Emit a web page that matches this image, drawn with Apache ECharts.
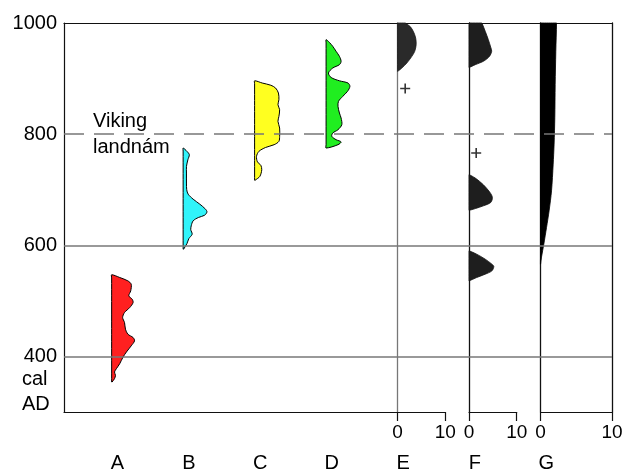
<!DOCTYPE html>
<html>
<head>
<meta charset="utf-8">
<script src="https://cdn.jsdelivr.net/npm/echarts@6/dist/echarts.min.js"></script>
<style>
  html, body { margin: 0; padding: 0; background: #fff; }
  #chart { width: 628px; height: 474px; }
</style>
</head>
<body>
<div id="chart"></div>
<script>
// categories and axis ticks
const categories = ['A', 'B', 'C', 'D', 'E', 'F', 'G']
const yTicks = [400, 600, 800, 1000]
const smallTicks = [0, 10]
const refLines = [400, 600, 800]

// probability curves, year (cal AD) -> density
const yearsA = [547, 542, 536, 530, 518, 509, 503, 497, 488, 479, 470, 461, 449, 440, 434, 428, 419, 408, 399, 387, 378, 372, 366, 360, 354]
const densA = [0, 1.7, 3.4, 4.1, 4.0, 3.6, 4.3, 4.5, 3.8, 2.7, 2.3, 2.7, 2.9, 3.4, 4.5, 4.8, 4.1, 3.1, 2.4, 1.7, 1.0, 0.6, 0.8, 0.6, 0.1]
const yearsB = [775, 769, 763, 754, 742, 730, 712, 700, 692, 683, 674, 665, 660, 654, 650, 644, 635, 628, 620, 612, 603, 593]
const densB = [0, 0.8, 1.3, 1.0, 0.7, 0.7, 0.7, 0.75, 1.05, 2.1, 3.5, 4.7, 5.0, 4.5, 3.2, 2.1, 1.7, 1.6, 1.9, 1.2, 0.8, 0.1]
const yearsC = [896, 892, 888, 883, 874, 862, 853, 844, 832, 823, 811, 796, 787, 781, 776, 769, 760, 750, 744, 736, 724, 717]
const densC = [0, 1.6, 3.4, 4.4, 5.0, 5.1, 4.9, 5.25, 5.1, 4.9, 5.25, 5.25, 5.1, 4.1, 2.3, 0.9, 0.4, 0.6, 1.3, 1.5, 1.1, 0.1]
const yearsD = [970, 965, 958, 949, 940, 931, 925, 919, 910, 902, 896, 892, 886, 877, 868, 859, 850, 838, 829, 817, 808, 802, 796, 790, 786, 781, 775]
const densD = [0, 0.7, 1.4, 2.1, 2.8, 3.15, 2.8, 1.4, 0.5, 1.05, 2.8, 4.6, 5.0, 4.5, 3.5, 2.6, 2.5, 2.8, 3.15, 3.3, 2.5, 1.4, 1.2, 2.1, 3.15, 2.5, 0]
const yearsE = [1000, 994, 985, 973, 961, 949, 940, 928, 919, 913]
const densE = [1.6, 2.6, 3.3, 3.8, 3.9, 3.6, 3.0, 1.95, 0.9, 0]
const yearsF1 = [1000, 985, 970, 955, 949, 940, 931, 925, 920]
const densF1 = [2.7, 3.4, 4.05, 4.6, 4.75, 4.3, 3.0, 1.3, 0]
const yearsF2 = [727, 721, 709, 695, 686, 677, 671, 666, 663]
const densF2 = [0, 1.3, 3.0, 4.4, 4.9, 4.55, 3.0, 1.3, 0]
const yearsF3 = [590, 584, 575, 566, 562, 554, 548, 542, 536]
const densF3 = [0, 1.6, 3.4, 4.8, 5.2, 4.8, 3.4, 1.6, 0]
const yearsG = [1000, 949, 889, 830, 782, 746, 698, 662, 632, 602, 579, 566]
const densG = [2.24, 2.14, 2.05, 2.0, 1.9, 1.77, 1.54, 1.2, 0.84, 0.46, 0.14, 0]
// single dates shown as crosses
const plusE = [[1.6, 882]]
const plusF = [[1.5, 766]]

const FONT = 'Liberation Sans, Arial, sans-serif'
const X_MIN = -10
const X_MAX = 105
const COL = 15
const PLOT_L = 64
const PLOT_R = 612
const PLOT_T = 23
const PLOT_B = 412
const unit = (PLOT_R - PLOT_L) / (X_MAX - X_MIN)
const px = v => PLOT_L + (v - X_MIN) * unit
const PLUS = 'path://M4.2,0h1.6v4.2h4.2v1.6h-4.2v4.2h-1.6v-4.2h-4.2v-1.6h4.2z'

// points along a straight edge, close to both ends so smoothing keeps corners sharp
function edge(a, b) {
  return [0.03, 0.25, 0.5, 0.75, 0.97].map(t => [a[0] + (b[0] - a[0]) * t, a[1] + (b[1] - a[1]) * t])
}

function shape(years, dens, base, xi, yi, fill, stroke, lw) {
  return {
    type: 'custom',
    xAxisIndex: xi,
    yAxisIndex: yi,
    silent: true,
    z: 3,
    data: years.map((y, i) => [base + dens[i], y]),
    renderItem: function(params, api) {
      if (params.dataIndex > 0) return null
      const n = years.length
      const top = [base, years[0]]
      const bot = [base, years[n - 1]]
      const curve = years.map((y, i) => [base + dens[i], y])
      let poly = [top]
      if (dens[0] !== 0) poly = poly.concat(edge(top, curve[0]))
      poly = poly.concat(curve.filter((p, i) => !((i === 0 || i === n - 1) && dens[i] === 0)))
      if (dens[n - 1] !== 0) poly = poly.concat(edge(curve[n - 1], bot))
      poly.push(bot)
      poly = poly.concat(edge(bot, top))
      return {
        type: 'polygon',
        shape: { points: poly.map(p => api.coord(p)), smooth: 0.3 },
        style: { fill: fill, stroke: stroke, lineWidth: lw }
      }
    }
  }
}

function smallGrid(col, width) {
  return {
    left: px(col * COL),
    width: width * unit,
    top: PLOT_T,
    bottom: 474 - PLOT_B
  }
}

function smallX(gridIndex) {
  return {
    type: 'value',
    gridIndex: gridIndex,
    min: 0,
    max: 10,
    axisLine: { show: true, onZero: false, lineStyle: { color: '#111', width: 1.2 } },
    axisTick: { show: true, customValues: smallTicks, length: 9, lineStyle: { color: '#111', width: 1.2 } },
    axisLabel: { customValues: smallTicks, margin: 11, fontSize: 19, color: '#000', fontFamily: FONT },
    splitLine: { show: false }
  }
}

function smallY(gridIndex, color) {
  return {
    type: 'value',
    gridIndex: gridIndex,
    min: 300,
    max: 1000,
    axisLine: { show: true, onZero: false, lineStyle: { color: color, width: 1.3 } },
    axisTick: { show: false },
    axisLabel: { show: false },
    splitLine: { show: false }
  }
}

const chart = echarts.init(document.getElementById('chart'))
chart.setOption({
  animation: false,
  backgroundColor: '#fff',
  textStyle: { fontFamily: FONT },
  grid: [
    { left: PLOT_L, right: 628 - PLOT_R, top: PLOT_T, bottom: 474 - PLOT_B },
    { left: PLOT_L, width: px(4 * COL) - PLOT_L, top: PLOT_T, bottom: 474 - PLOT_B },
    smallGrid(4, 10),
    smallGrid(5, 10),
    smallGrid(6, 15)
  ],
  xAxis: [
    {
      type: 'value', gridIndex: 0, min: X_MIN, max: X_MAX,
      axisLine: { show: false }, axisTick: { show: false }, splitLine: { show: false },
      axisLabel: {
        customValues: categories.map((c, i) => i * COL + 1.2),
        formatter: v => categories[Math.round((v - 1.2) / COL)],
        margin: 41, fontSize: 20, color: '#000', fontFamily: FONT
      }
    },
    {
      type: 'value', gridIndex: 0, position: 'top', min: X_MIN, max: X_MAX,
      axisLine: { show: true, onZero: false, lineStyle: { color: '#111', width: 1.2 } },
      axisTick: { show: false }, axisLabel: { show: false }, splitLine: { show: false }
    },
    {
      type: 'value', gridIndex: 1, min: 0, max: 1,
      axisLine: { show: true, onZero: false, lineStyle: { color: '#111', width: 1.2 } },
      axisTick: { show: false }, axisLabel: { show: false }, splitLine: { show: false }
    },
    smallX(2),
    smallX(3),
    smallX(4)
  ],
  yAxis: [
    {
      type: 'value', gridIndex: 0, min: 300, max: 1000,
      axisLine: { show: true, onZero: false, lineStyle: { color: '#111', width: 1.2 } },
      axisTick: { show: false }, splitLine: { show: false },
      axisLabel: {
        customValues: yTicks, formatter: v => String(v),
        margin: 7, fontSize: 20, color: '#000', fontFamily: FONT
      }
    },
    {
      type: 'value', gridIndex: 0, position: 'right', min: 300, max: 1000,
      axisLine: { show: true, onZero: false, lineStyle: { color: '#111', width: 1.3 } },
      axisTick: { show: false }, axisLabel: { show: false }, splitLine: { show: false }
    },
    { type: 'value', gridIndex: 1, min: 300, max: 1000, show: false },
    smallY(2, '#777'),
    smallY(3, '#111'),
    smallY(4, '#111')
  ],
  graphic: [
    {
      type: 'text', left: 22, top: 367,
      style: { text: 'cal\nAD', font: '20px ' + FONT, lineHeight: 25, fill: '#000' }
    }
  ],
  series: [
    {
      type: 'line', xAxisIndex: 0, yAxisIndex: 0, data: [], silent: true,
      markLine: {
        silent: true,
        symbol: 'none',
        animation: false,
        lineStyle: { color: '#777', width: 1.5, type: 'solid' },
        label: { show: false },
        data: refLines.map(v => v === 800 ? {
          yAxis: v,
          lineStyle: { type: [20, 10], color: '#777', width: 1.5 },
          label: {
            show: true, position: 'insideStart', distance: [29, 0],
            formatter: 'Viking\nlandnám', fontSize: 20, lineHeight: 26,
            color: '#000', fontFamily: FONT, padding: [0, 0, 3, 0]
          }
        } : { yAxis: v })
      }
    },
    shape(yearsA, densA, 0 * COL, 0, 0, '#ff2020', '#000', 1),
    shape(yearsB, densB, 1 * COL, 0, 0, '#30f4fa', '#000', 1),
    shape(yearsC, densC, 2 * COL, 0, 0, '#ffff20', '#000', 1),
    shape(yearsD, densD, 3 * COL, 0, 0, '#20ee20', '#000', 1),
    shape(yearsE, densE, 0, 3, 3, '#2a2a2a', '#1a1a1a', 0.8),
    shape(yearsF1, densF1, 0, 4, 4, '#1e1e1e', '#111', 0.8),
    shape(yearsF2, densF2, 0, 4, 4, '#1e1e1e', '#111', 0.8),
    shape(yearsF3, densF3, 0, 4, 4, '#1e1e1e', '#111', 0.8),
    shape(yearsG, densG, 0, 5, 5, '#000', '#000', 0.8),
    {
      type: 'scatter', xAxisIndex: 3, yAxisIndex: 3, data: plusE, silent: true,
      symbol: PLUS, symbolSize: 10, itemStyle: { color: '#000' }
    },
    {
      type: 'scatter', xAxisIndex: 4, yAxisIndex: 4, data: plusF, silent: true,
      symbol: PLUS, symbolSize: 10, itemStyle: { color: '#000' }
    }
  ]
})
</script>
</body>
</html>
